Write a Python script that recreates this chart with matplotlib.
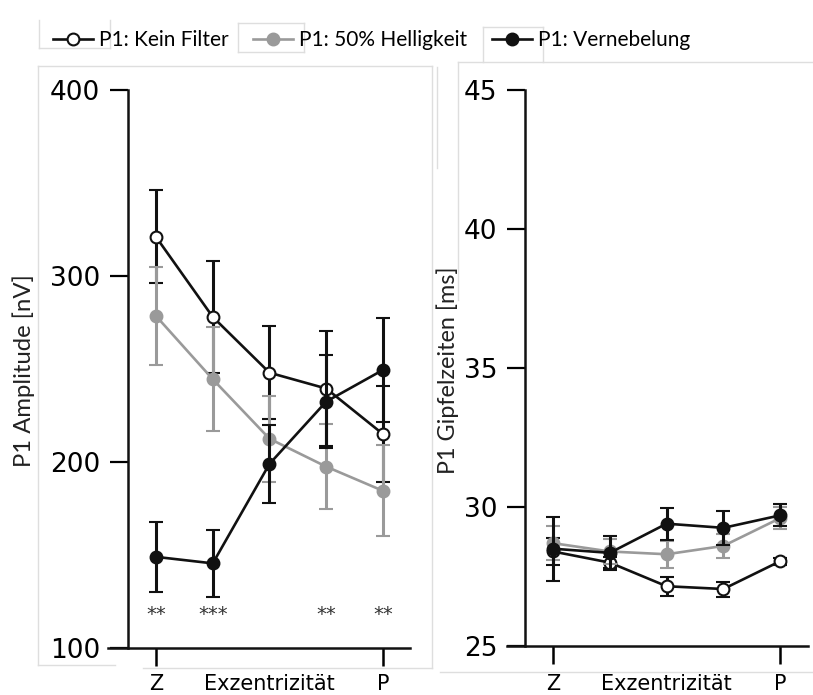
import matplotlib
matplotlib.use("Agg")
import matplotlib.pyplot as plt
from matplotlib.lines import Line2D
import numpy as np

# ---- data ----
positions = [0, 1, 2, 3, 4]
series_names = ["P1: Kein Filter", "P1: 50% Helligkeit", "P1: Vernebelung"]

amp_kein = [321, 278, 248, 239.5, 215]
amp_kein_err = [25, 30, 25, 31, 26]
amp_hell = [278.5, 244.5, 212.5, 197.5, 184.5]
amp_hell_err = [26.5, 28, 23, 23, 24.5]
amp_nebel = [149, 145.5, 199, 232.5, 249.5]
amp_nebel_err = [19, 18, 21, 25, 28]

lat_kein = [28.4, 28.0, 27.15, 27.05, 28.05]
lat_kein_err = [0.5, 0.2, 0.35, 0.27, 0.12]
lat_hell = [28.7, 28.4, 28.3, 28.6, 29.6]
lat_hell_err = [0.6, 0.45, 0.48, 0.43, 0.4]
lat_nebel = [28.5, 28.35, 29.4, 29.25, 29.7]
lat_nebel_err = [1.15, 0.6, 0.57, 0.6, 0.4]

sig_pos = [0, 1, 3, 4]
sig_labels = ["**", "***", "**", "**"]
sig_y = 118

amp_ticks = [100, 200, 300, 400]
lat_ticks = [25, 30, 35, 40, 45]
x_tick_labels = ["Z", "P"]
x_label = "Exzentrizität"

W, H = 813, 695
fig = plt.figure(figsize=(W / 100, H / 100), dpi=100)
PX = 72 / 100  # points per pixel

def fx(px):
    return px / W

def fy(py):
    return 1 - py / H

GRAY = "#9a9a9a"
BLACK = "#111111"

styles = [
    dict(color=BLACK, mfc="white", mec=BLACK, ecolor=BLACK),
    dict(color=GRAY, mfc=GRAY, mec=GRAY, ecolor=GRAY),
    dict(color=BLACK, mfc=BLACK, mec=BLACK, ecolor=BLACK),
]


def make_axes(rect, spine_x, ylim, yticks, ylabel, ylabel_xy, ylabel_size, bottom_px):
    ax = fig.add_axes(rect)
    ax.set_xlim(*spine_x[0])
    ax.set_ylim(*ylim)
    for s in ["top", "right"]:
        ax.spines[s].set_visible(False)
    ax.spines["left"].set_position(("data", spine_x[1]))
    for s in ["left", "bottom"]:
        ax.spines[s].set_linewidth(1.8)
        ax.spines[s].set_color(BLACK)
    ax.set_yticks(yticks)
    ax.tick_params(axis="y", direction="out", length=13, width=1.6, labelsize=19, pad=7)
    tick_len = 13
    baseline = 690
    pad_major = (baseline - bottom_px) * PX - tick_len
    pad_minor = (baseline - bottom_px) * PX
    ax.set_xticks([0, 4])
    ax.set_xticklabels(x_tick_labels)
    ax.set_xticks([2], minor=True)
    ax.set_xticklabels([x_label], minor=True)
    ax.tick_params(axis="x", which="major", direction="out", length=tick_len, width=1.8,
                   labelsize=15, pad=pad_major)
    ax.tick_params(axis="x", which="minor", length=0, labelsize=15, pad=pad_minor)
    for lab in ax.get_xticklabels() + ax.get_xticklabels(minor=True):
        lab.set_va("baseline")
    fig.text(fx(ylabel_xy[0]), fy(ylabel_xy[1]), ylabel, rotation=90, ha="center", va="center",
             fontsize=ylabel_size, family="Lato", color="#222222")
    return ax


axL = make_axes([fx(108), fy(648), fx(410 - 108), (648 - 90) / H], ((-0.846, 4.476), -0.493),
                (100, 400), amp_ticks, "P1 Amplitude [nV]", (24, 371), 17.2, 648)
axR = make_axes([fx(507), fy(646), fx(808 - 507), (646 - 90) / H], ((-0.81, 4.49), -0.49),
                (25, 45), lat_ticks, "P1 Gipfelzeiten [ms]", (448, 370), 16.8, 646)

for ax, data in [
    (axL, [(amp_kein, amp_kein_err), (amp_hell, amp_hell_err), (amp_nebel, amp_nebel_err)]),
    (axR, [(lat_kein, lat_kein_err), (lat_hell, lat_hell_err), (lat_nebel, lat_nebel_err)]),
]:
    order = [1, 0, 2]
    for i in order:
        vals, errs = data[i]
        st = styles[i]
        ax.errorbar(positions, vals, yerr=errs, color=st["color"], ecolor=st["ecolor"],
                    elinewidth=2.2, capsize=5, capthick=2.2, lw=1.9, marker="o", ms=8.5,
                    mfc=st["mfc"], mec=st["mec"], mew=1.5, zorder=3 + i)

for p, s in zip(sig_pos, sig_labels):
    axL.text(p, sig_y, s, ha="center", va="center", fontsize=14, color="#333333")

# legend
leg_handles = [Line2D([], [], color=st["color"], lw=1.9, marker="o", ms=8.5, mfc=st["mfc"],
                      mec=st["mec"], mew=1.5) for st in styles]
fig.legend(leg_handles, series_names, loc="center left", bbox_to_anchor=(fx(53), fy(40)), ncol=3,
           frameon=False, prop={"family": "Lato", "size": 15}, handlelength=1.9,
           handletextpad=0.3, columnspacing=1.2, borderaxespad=0, borderpad=0)

# faint screenshot frame lines
FAINT = "#dedede"

def seg(x0, y0, x1, y1):
    fig.add_artist(Line2D([fx(x0), fx(x1)], [fy(y0), fy(y1)], color=FAINT, lw=1.0, zorder=0))

seg(38, 66, 432, 66)
seg(38, 66, 38, 665)
seg(432, 66, 432, 668)
seg(143, 668, 432, 668)
seg(38, 665, 115, 665)
seg(458, 62, 813, 62)
seg(458, 62, 458, 300)
seg(437, 67, 437, 168)
seg(440, 672, 813, 672)
seg(39, 20, 39, 48)
seg(39, 48, 110, 48)
seg(110, 20, 110, 48)
seg(238, 23, 304, 23)
seg(238, 23, 238, 52)
seg(238, 52, 304, 52)
seg(304, 23, 304, 52)
seg(483, 27, 543, 27)
seg(483, 27, 483, 62)
seg(543, 27, 543, 62)

fig.savefig("out.png", dpi=100)
